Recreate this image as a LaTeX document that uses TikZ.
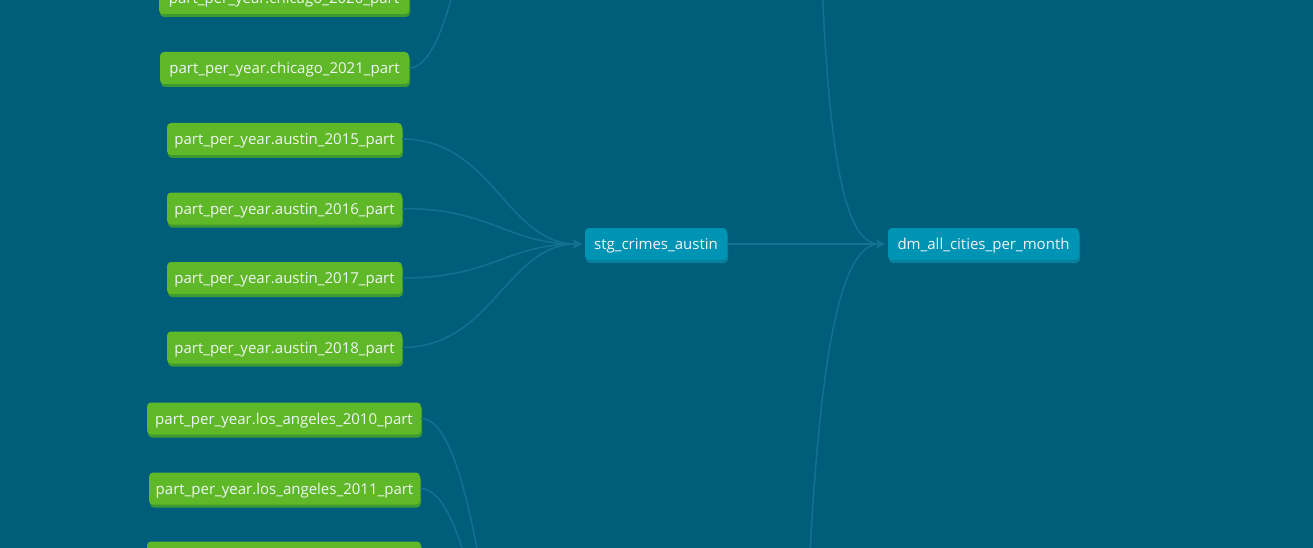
\documentclass[tikz,border=0pt]{standalone}
\usepackage{fontspec}
\setmainfont{Open Sans}
\usetikzlibrary{arrows.meta,shadows}
\definecolor{bg}{HTML}{005E7B}
\definecolor{gfill}{HTML}{5FB828}
\definecolor{gshad}{HTML}{3D9A33}
\definecolor{bfill}{HTML}{0094B4}
\definecolor{bshad}{HTML}{0A7F9C}
\definecolor{ecol}{HTML}{13728F}
\definecolor{tcol}{HTML}{F1F5F5}
\begin{document}
\begin{tikzpicture}[x=1pt,y=-1pt,
  box/.style={rounded corners=4pt, minimum height=32pt, inner sep=0pt, text height=11.5pt, text depth=0pt, text=tcol, font=\fontsize{15}{18}\selectfont},
  src/.style={box, fill=gfill, drop shadow={shadow xshift=1pt, shadow yshift=-3pt, fill=gshad, opacity=1}},
  mdl/.style={box, fill=bfill, drop shadow={shadow xshift=1pt, shadow yshift=-3pt, fill=bshad, opacity=1}},
  edge/.style={draw=ecol, line width=1.5pt},
  arr/.style={edge, -{Stealth[length=9pt,width=9pt]}}
]
\fill[bg] (0,0) rectangle (1313,548);
\useasboundingbox (0,0) rectangle (1313,548);
\clip (0,0) rectangle (1313,548);

% source nodes
\node[src, minimum width=250pt] (c20) at (284,-2) {part\_per\_year.chicago\_2020\_part};
\node[src, minimum width=249pt] (c21) at (284.5,68) {part\_per\_year.chicago\_2021\_part};
\node[src, minimum width=235pt] (a15) at (284.5,139) {part\_per\_year.austin\_2015\_part};
\node[src, minimum width=235pt] (a16) at (284.5,208.5) {part\_per\_year.austin\_2016\_part};
\node[src, minimum width=235pt] (a17) at (284.5,278) {part\_per\_year.austin\_2017\_part};
\node[src, minimum width=235pt] (a18) at (284.5,347.5) {part\_per\_year.austin\_2018\_part};
\node[src, minimum width=274pt] (l10) at (284,418.5) {part\_per\_year.los\_angeles\_2010\_part};
\node[src, minimum width=271pt] (l11) at (284.5,488.5) {part\_per\_year.los\_angeles\_2011\_part};
\node[src, minimum width=274pt] (l12) at (284,557.5) {};

% model nodes
\node[mdl, minimum width=142pt] (stg) at (656,244) {stg\_crimes\_austin};
\node[mdl, minimum width=191pt] (dm) at (983.5,244) {dm\_all\_cities\_per\_month};

% off-frame ends
\coordinate (chi) at (580,-560);
\coordinate (la) at (580,980);
\coordinate (cT) at (818,-120);
\coordinate (cB) at (806,640);

% edges
\draw[edge] (c20.east) .. controls +(80,0) and +(-80,0) .. (chi);
\draw[edge] (c21.east) .. controls +(80,0) and +(-80,0) .. (chi);
\draw[arr] (a15.east) .. controls +(90,0) and +(-75,0) .. ([xshift=-3pt]stg.west);
\draw[arr] (a16.east) .. controls +(90,0) and +(-75,0) .. ([xshift=-3pt]stg.west);
\draw[arr] (a17.east) .. controls +(90,0) and +(-75,0) .. ([xshift=-3pt]stg.west);
\draw[arr] (a18.east) .. controls +(90,0) and +(-75,0) .. ([xshift=-3pt]stg.west);
\draw[edge] (l10.east) .. controls +(77,0) and +(-75,0) .. (la);
\draw[edge] (l11.east) .. controls +(77,0) and +(-75,0) .. (la);
\draw[edge] (l12.east) .. controls +(77,0) and +(-75,0) .. (la);
\draw[arr] (stg.east) -- ([xshift=-3pt]dm.west);
\draw[arr] (cT) .. controls (825,100) and (835,244) .. ([xshift=-3pt]dm.west);
\draw[arr] (cB) .. controls (816,380) and (836,244) .. ([xshift=-3pt]dm.west);
\end{tikzpicture}
\end{document}
